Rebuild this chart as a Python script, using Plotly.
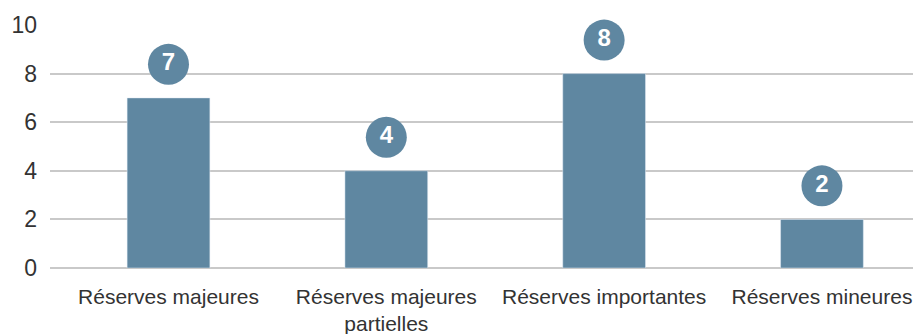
import plotly.graph_objects as go

# données
categories = ["Réserves majeures", "Réserves majeures<br>partielles",
              "Réserves importantes", "Réserves mineures"]
valeurs = [7, 4, 8, 2]
ticks_y = [0, 2, 4, 6, 8, 10]

couleur = "#5f87a1"
police = "Liberation Sans, Helvetica, Arial, sans-serif"

fig = go.Figure()
fig.add_trace(go.Bar(x=categories, y=valeurs, marker_color=couleur,
                     width=0.38, hoverinfo="skip"))

# pastilles avec les valeurs au-dessus des barres
decalage = 1.38
fig.add_trace(go.Scatter(
    x=categories, y=[v + decalage for v in valeurs],
    mode="markers+text", text=[str(v) for v in valeurs],
    textposition="middle center",
    textfont=dict(family=police, size=24, color="white", weight="bold"),
    marker=dict(size=41, color=couleur, line_width=0),
    cliponaxis=False, hoverinfo="skip"))

fig.update_layout(
    width=913, height=334,
    margin=dict(l=50, r=0, t=25, b=66),
    paper_bgcolor="white", plot_bgcolor="white",
    showlegend=False,
    font=dict(family=police, color="#333333"),
    xaxis=dict(range=[-0.544, 3.418], showgrid=False, showline=False,
               ticks="", ticklabelstandoff=14,
               tickfont=dict(size=21), fixedrange=True),
    yaxis=dict(range=[0, 10], tickvals=ticks_y, showgrid=True,
               gridcolor="#c9c9c9", gridwidth=1.5, zeroline=True,
               zerolinecolor="#c9c9c9", zerolinewidth=1.5, showline=False,
               ticks="", ticklabelstandoff=12,
               tickfont=dict(size=23), fixedrange=True),
)

fig.write_html("out.html", config={"displayModeBar": False},
               post_script="document.body.style.margin='0';")
